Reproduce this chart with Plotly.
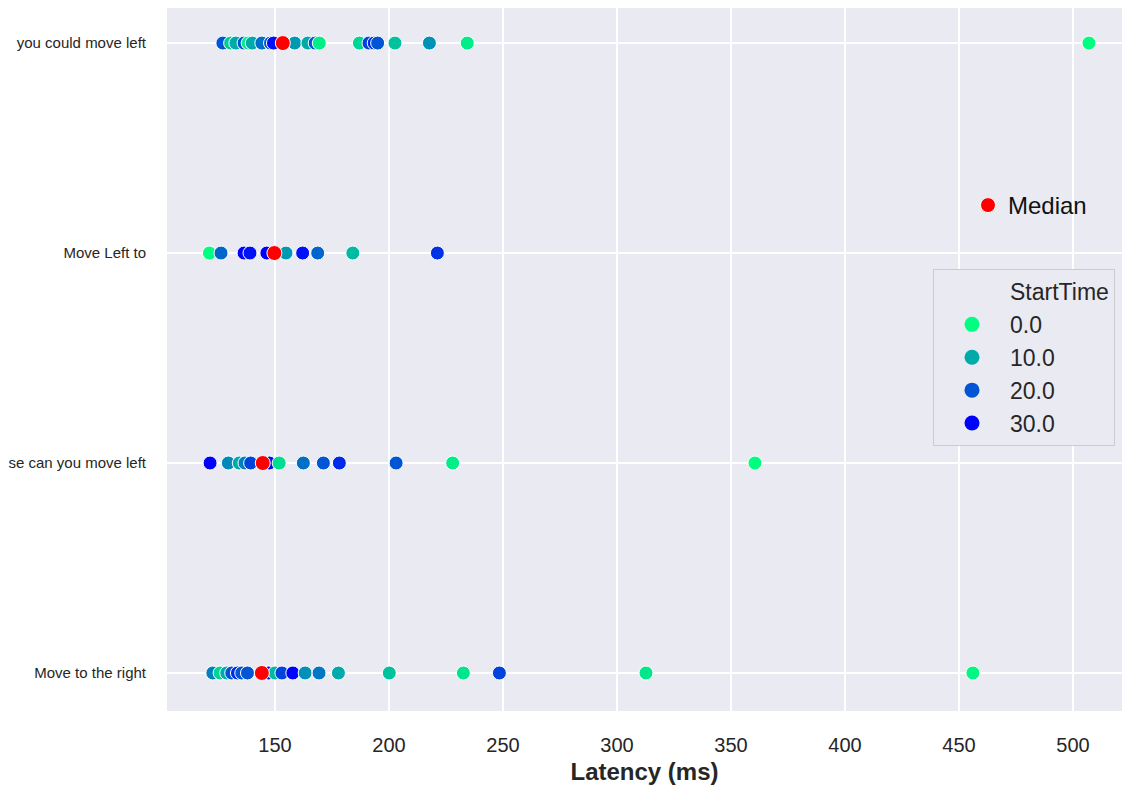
import plotly.graph_objects as go

# ---- data ----
categories = ["you could move left", "Move Left to", "se can you move left", "Move to the right"]

lat_row0 = [127.1, 130.5, 132.8, 136.4, 138.2, 140.0, 144.2, 148.0, 149.3, 158.6, 164.4, 167.6, 169.4,
            187.0, 191.2, 193.5, 195.0, 202.6, 217.7, 234.3, 507.0]
st_row0 = [20, 6, 10, 20, 2, 10, 17, 20, 28, 12, 10, 20, 2,
           5, 22, 25, 20, 7, 13, 2, 0]

lat_row1 = [121.2, 126.3, 136.4, 139.0, 146.4, 154.8, 162.1, 168.7, 184.1, 221.2]
st_row1 = [0, 18, 30, 28, 30, 12, 28, 18, 8, 24]

lat_row2 = [121.5, 129.5, 134.3, 136.8, 139.3, 147.5, 151.8, 162.4, 171.2, 178.2, 203.1, 227.9, 360.5]
st_row2 = [30, 14, 10, 15, 22, 28, 4, 17, 20, 25, 20, 2, 0]

lat_row3 = [122.7, 125.9, 128.8, 131.0, 133.5, 135.4, 137.9, 147.1, 150.0, 153.0, 157.8, 163.2, 169.3,
            177.8, 200.1, 232.6, 248.4, 312.7, 456.1]
st_row3 = [15, 5, 10, 20, 25, 20, 20, 28, 8, 22, 30, 13, 16,
           10, 7, 3, 22, 3, 1]

medians = [153.4, 149.7, 144.6, 144.2]

legend_levels = ["0.0", "10.0", "20.0", "30.0"]
legend_values = [0, 10, 20, 30]

x_ticks = [150, 200, 250, 300, 350, 400, 450, 500]

# ---- styling ----
colorscale = [[0.0, "#00FF80"], [1.0, "#0000FF"]]


def st_color(v):
    t = v / 30.0
    g = round(255 * (1 - t))
    b = round(128 + 127 * t)
    return f"rgb(0,{g},{b})"


fig = go.Figure()

rows = [(lat_row0, st_row0), (lat_row1, st_row1), (lat_row2, st_row2), (lat_row3, st_row3)]
for cat, (lat, st) in zip(categories, rows):
    fig.add_trace(go.Scatter(
        x=lat, y=[cat] * len(lat), mode="markers",
        marker=dict(size=14, color=st, colorscale=colorscale, cmin=0, cmax=30,
                    line=dict(color="white", width=1)),
        showlegend=False, hoverinfo="x+y",
    ))

fig.add_trace(go.Scatter(
    x=medians, y=categories, mode="markers", name="Median",
    marker=dict(size=15, color="#FF0000", line=dict(color="white", width=1)),
    legend="legend2",
))

# legend entries for StartTime
fig.add_trace(go.Scatter(
    x=[None], y=[None], mode="markers", name="StartTime",
    marker=dict(size=1, color="rgba(0,0,0,0)"), legend="legend",
))
for lab, v in zip(legend_levels, legend_values):
    fig.add_trace(go.Scatter(
        x=[None], y=[None], mode="markers", name=lab,
        marker=dict(size=15, color=st_color(v)), legend="legend",
    ))

L, R, T, B = 167, 1, 8, 78
W, H = 1123, 789
pw, ph = W - L - R, H - T - B

fig.update_layout(
    width=W, height=H,
    margin=dict(l=L, r=R, t=T, b=B, autoexpand=False),
    paper_bgcolor="white",
    plot_bgcolor="#EAEAF2",
    font=dict(family="Liberation Sans, Arial, sans-serif", color="#262626"),
    xaxis=dict(
        range=[102.6, 521.5], tickvals=x_ticks, ticktext=[str(t) for t in x_ticks],
        showgrid=True, gridcolor="white", gridwidth=2, zeroline=False, showline=False,
        ticks="", tickfont=dict(size=20, color="#262626"), ticklabelstandoff=20,
        title=dict(text="<b>Latency (ms)</b>", font=dict(size=24, color="#262626"), standoff=8),
        automargin=False,
    ),
    yaxis=dict(
        type="category", categoryorder="array", categoryarray=categories,
        range=[3.181, -0.167],
        showgrid=True, gridcolor="white", gridwidth=2, zeroline=False, showline=False,
        ticks="", tickfont=dict(size=15, color="#262626"), ticklabelstandoff=20,
        automargin=False,
    ),
    legend=dict(
        x=(933 - L) / pw, y=1 - (269 - T) / ph, xanchor="left", yanchor="top",
        bgcolor="#EAEAF2", bordercolor="#CCCCCC", borderwidth=1,
        font=dict(size=23, color="#262626"), itemwidth=66,
    ),
    legend2=dict(
        x=(968 - L) / pw, y=1 - (183 - T) / ph, xanchor="left", yanchor="top",
        bgcolor="rgba(0,0,0,0)", borderwidth=0,
        font=dict(size=24, color="#111111"), itemwidth=30,
    ),
)

fig.write_html("out.html", config={"displayModeBar": False},
               post_script="document.body.style.margin='0';")
